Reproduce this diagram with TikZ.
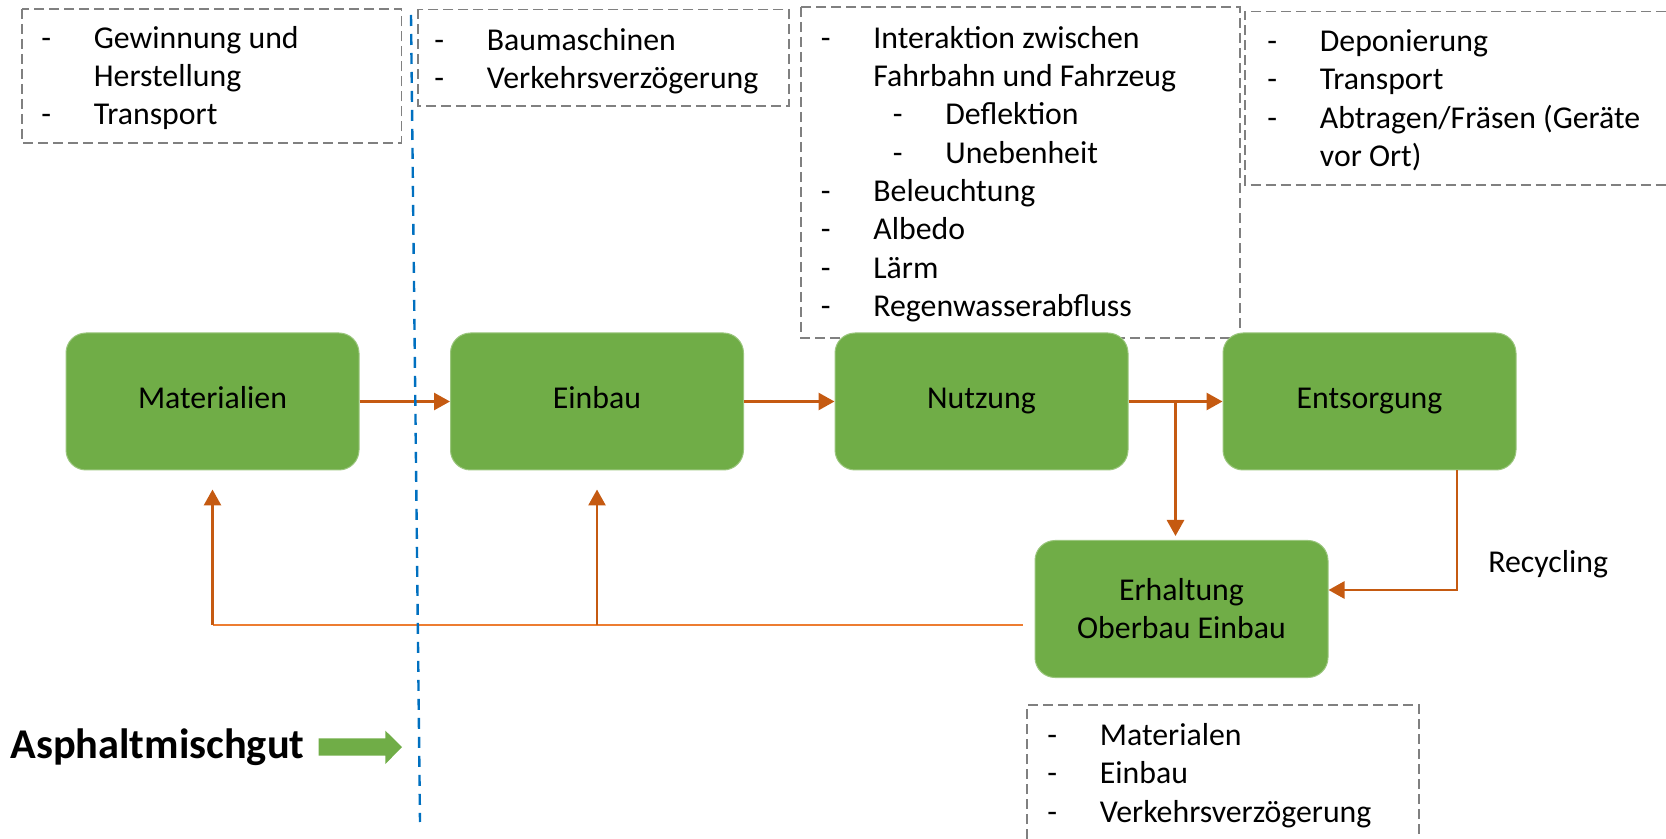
\documentclass[tikz,border=0pt]{standalone}
\usepackage{fontspec}
\setmainfont{Carlito}
\usetikzlibrary{arrows.meta,calc,positioning}
\definecolor{phasegreen}{RGB}{112,173,71}
\definecolor{flowdark}{RGB}{197,90,17}
\definecolor{flowlight}{RGB}{237,125,49}
\definecolor{borderblue}{RGB}{0,112,192}
\definecolor{framegray}{RGB}{128,128,128}
\tikzset{
  phasebox/.style={rounded corners=10pt, fill=phasegreen, draw=phasegreen!70!white, line width=0.5pt,
    minimum width=146.5pt, minimum height=68.5pt, inner sep=0pt, align=center,
    font=\fontsize{15.9pt}{19pt}\selectfont},
  phase/.style={phasebox, text height=7pt, text depth=0pt},
  flow/.style={-{Triangle[length=8pt,width=8.5pt]}, line width=1.4pt, draw=flowdark},
  backline/.style={line width=1.4pt, draw=flowlight},
  listframe/.style={draw=framegray, line width=0.75pt, dash pattern=on 5pt off 2.5pt},
  % base anchor of a multi-line node sits on its last line
  listtext/.style={anchor=base west, inner sep=0pt, align=left, font=\fontsize{15.9pt}{19.15pt}\selectfont},
  divider/.style={draw=borderblue, line width=1.2pt, dash pattern=on 5.5pt off 4pt},
}
\newcommand{\dashitem}[1]{\makebox[26.25pt][l]{-}#1}
\newcommand{\dashcont}[1]{\hspace*{26.25pt}#1}
\newcommand{\dashsub}[1]{\hspace*{36pt}\makebox[26.25pt][l]{-}#1}

\begin{document}
\begin{tikzpicture}[x=0.5pt,y=-0.5pt]
  \useasboundingbox (0,0) rectangle (1666,839);

  % Dashed lists of effects per phase.
  \draw[listframe] (22,9) rectangle (401.5,143);
  \node[listtext] (effMat) at (41,125)
    {\dashitem{Gewinnung und}\\\dashcont{Herstellung}\\\dashitem{Transport}};
  \draw[listframe] (418,9.3) rectangle (789,106);
  \node[listtext] (effEinb) at (434,89)
    {\dashitem{Baumaschinen}\\\dashitem{Verkehrsverzögerung}};
  \draw[listframe] (801,7) rectangle (1240,338);
  \node[listtext] (effNutz) at (820.5,316.5)
    {\dashitem{Interaktion zwischen}\\\dashcont{Fahrbahn und Fahrzeug}\\
     \dashsub{Deflektion}\\\dashsub{Unebenheit}\\
     \dashitem{Beleuchtung}\\\dashitem{Albedo}\\\dashitem{Lärm}\\\dashitem{Regenwasserabfluss}};
  \draw[listframe] (1666,11.5) -- (1245,11.5) -- (1245,185) -- (1666,185);
  \node[listtext] (effEnts) at (1267,166.6)
    {\dashitem{Deponierung}\\\dashitem{Transport}\\\dashitem{Abtragen/Fräsen (Geräte}\\\dashcont{vor Ort)}};
  \draw[listframe] (1027,839) -- (1027,705) -- (1419,705) -- (1419,839);
  \node[listtext] (effErh) at (1047,822)
    {\dashitem{Materialen}\\\dashitem{Einbau}\\\dashitem{Verkehrsverzögerung}};

  % Life-cycle phases.
  \node[phase] (mat) at (212.5,401.5) {Materialien};
  \node[phase] (einb) at (597,401.5) {Einbau};
  \node[phase] (nutz) at (981.5,401.5) {Nutzung};
  \node[phase] (entsg) at (1369.5,401.5) {Entsorgung};
  \node[phasebox] (erh) at (1181.5,609) {Erhaltung\\Oberbau Einbau};

  % Flow between phases.
  \draw[flow] (mat) -- (einb);
  \draw[flow] (einb) -- (nutz);
  \draw[flow] (nutz) -- (entsg);
  \coordinate (split) at ($(nutz.east)+(47,0)$);
  \draw[flow, shorten >=2pt] (split) -- (split |- erh.north);

  % Recycling back into maintenance.
  \draw[flow] ($(entsg.south)+(87.5,0)$) |- ($(erh.east)+(0,-19)$);
  \node[listtext] (recyc) at (1488,573) {Recycling};

  % Feedback to earlier phases.
  \coordinate (fbR) at ($(erh.west)+(-12,16)$);
  \coordinate (fbL) at (mat.south |- fbR);
  \coordinate (fbM) at (einb.south |- fbR);
  \draw[backline] (fbR) -- (fbL);
  \draw[flow] (fbL) -- ($(mat.south)+(0,19)$);
  \draw[flow] (fbM) -- ($(einb.south)+(0,19)$);

  % Input marker.
  \node[anchor=base west, inner sep=0pt, font=\fontsize{21.2pt}{25pt}\selectfont\bfseries]
    (asph) at (10,758) {Asphaltmischgut};
  \fill[phasegreen] (318.7,738.3) -- (385.4,738.3) -- (385.4,730.7) -- (402,747)
    -- (385.4,764) -- (385.4,755.7) -- (318.7,755.7) -- cycle;

  % System boundary.
  \coordinate (divTop) at (411,15);
  \coordinate (divBot) at (420,822);
  \draw[divider] (divTop) -- (divBot);

\end{tikzpicture}
\end{document}
